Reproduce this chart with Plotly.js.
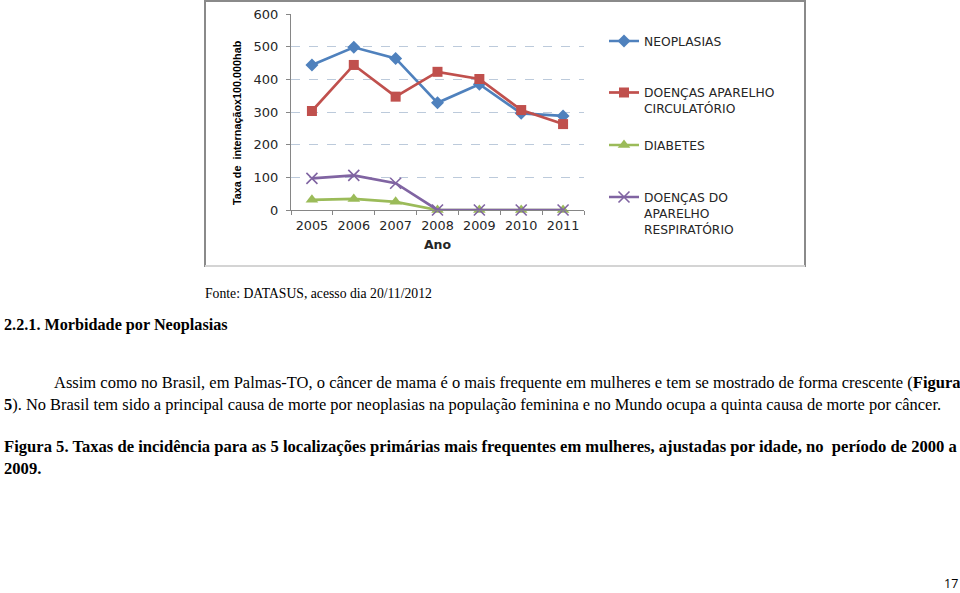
<!DOCTYPE html>
<html>
<head>
<meta charset="utf-8">
<script src="https://cdn.plot.ly/plotly-3.0.1.min.js"></script>
<style>
html,body{margin:0;padding:0;background:#fff;}
#chart{width:960px;height:593px;}
</style>
</head>
<body>
<div id="chart"></div>
<script>
// ---- data ----
var years = ["2005","2006","2007","2008","2009","2010","2011"];
var neoplasias = [444, 498, 464, 328, 385, 296, 288];
var circulatorio = [303, 444, 347, 423, 401, 306, 263];
var diabetes = [31, 34, 25, 0, 0, 0, 0];
var respiratorio = [97, 106, 82, 0, 0, 0, 0];
var seriesNames = ["NEOPLASIAS", "DOENÇAS APARELHO<br>CIRCULATÓRIO", "DIABETES", "DOENÇAS DO<br>APARELHO<br>RESPIRATÓRIO"];
var yTicks = [0, 100, 200, 300, 400, 500, 600];

// ---- page geometry helpers (pixel -> paper) ----
var L = 291, R = 584, T = 14, B = 210;
function px(x){ return (x - L) / (R - L); }
function py(y){ return (B - y) / (B - T); }

var chartFont = "DejaVu Sans, Open Sans, sans-serif";
var serif = "Liberation Serif, Times New Roman, serif";

function tr(y, name, color, marker, legendId){
  return {
    x: years, y: y, name: name, type: "scatter", mode: "lines+markers",
    line: {color: color, width: 2.7},
    marker: marker, cliponaxis: false, legend: legendId
  };
}

var data = [
  tr(neoplasias, seriesNames[0], "#4f81bd", {symbol: "diamond", size: 10, color: "#4f81bd"}, "legend"),
  tr(circulatorio, seriesNames[1], "#c0504d", {symbol: "square", size: 10, color: "#c0504d"}, "legend2"),
  tr(diabetes, seriesNames[2], "#9bbb59", {symbol: "triangle-up", size: 11, color: "#9bbb59"}, "legend3"),
  tr(respiratorio, seriesNames[3], "#8064a2", {symbol: "x-thin-open", size: 11, color: "#8064a2", line: {width: 1.6, color: "#8064a2"}}, "legend4")
];

function leg(yTopPx){
  return {x: px(604), y: py(yTopPx), xanchor: "left", yanchor: "top", valign: "top",
    bgcolor: "rgba(0,0,0,0)", borderwidth: 0, itemwidth: 30,
    font: {family: chartFont, size: 12.3, color: "#262626"}};
}

var ann = [
  {text: "Fonte: DATASUS, acesso dia 20/11/2012", x: px(203), y: py(293), font: {family: serif, size: 13.7, color: "#000"}},
  {text: "<b>2.2.1. Morbidade por Neoplasias</b>", x: px(2), y: py(325), font: {family: serif, size: 16.2, color: "#000"}},
  {text: "Assim como no Brasil, em Palmas-TO, o câncer de mama é o mais frequente em mulheres e tem se mostrado de forma crescente (<b>Figura</b>", x: px(52), y: py(382), font: {family: serif, size: 16.5, color: "#000"}},
  {text: "<b>5</b>). No Brasil tem sido a principal causa de morte por neoplasias na população feminina e no Mundo ocupa a quinta causa de morte por câncer.", x: px(2), y: py(404), font: {family: serif, size: 16.45, color: "#000"}},
  {text: "<b>Figura 5. Taxas de incidência para as 5 localizações primárias mais frequentes em mulheres, ajustadas por idade, no  período de 2000 a<br>2009.</b>", x: px(2), y: py(457.5), align: "left", font: {family: serif, size: 16.6, color: "#000"}},
  {text: "17", x: px(951), y: py(593), xanchor: "center", yanchor: "bottom", borderpad: 0, font: {family: "Open Sans, sans-serif", size: 12.5, color: "#000"}},
  {text: "<b>Taxa de  internaçãox100.000hab</b>", x: px(237), y: py(123), xanchor: "center", textangle: -90, font: {family: "Liberation Sans, Arial, sans-serif", size: 10.8, color: "#000"}}
].map(function(a){
  return Object.assign({xref: "paper", yref: "paper", xanchor: "left", yanchor: "middle", showarrow: false}, a);
});

var layout = {
  width: 960, height: 593,
  margin: {l: L, r: 960 - R, t: T, b: 593 - B, pad: 0},
  paper_bgcolor: "#ffffff", plot_bgcolor: "#ffffff",
  font: {family: chartFont, color: "#262626"},
  xaxis: {
    type: "category", range: [-0.5, 6.5], fixedrange: true,
    showline: true, linecolor: "#868686", linewidth: 1,
    ticks: "outside", tickson: "boundaries", ticklen: 4, tickcolor: "#868686",
    ticklabelstandoff: 4, tickangle: 0,
    showgrid: false, zeroline: false,
    tickfont: {family: chartFont, size: 12.8, color: "#262626"},
    title: {text: "<b>Ano</b>", font: {family: chartFont, size: 12.5, color: "#262626"}, standoff: 7},
    automargin: false
  },
  yaxis: {
    range: [0, 600], tickvals: yTicks, ticktext: yTicks.map(String),
    showline: true, linecolor: "#868686", linewidth: 1,
    ticks: "outside", ticklen: 4, tickcolor: "#868686", ticklabelstandoff: 5,
    showgrid: true, gridcolor: "#bccadb", griddash: "dash", gridwidth: 1,
    zeroline: false,
    tickfont: {family: chartFont, size: 13, color: "#262626"},
    automargin: false
  },
  legend: leg(26.5),
  legend2: leg(78),
  legend3: leg(130.5),
  legend4: leg(182.5),
  showlegend: true,
  shapes: [
    {type: "rect", xref: "paper", yref: "paper", x0: px(205), x1: px(805), y0: py(266), y1: py(1), line: {color: "#8a8a8a", width: 2}, layer: "below"},
    {type: "line", xref: "paper", yref: "paper", x0: px(205), x1: px(805), y0: py(266), y1: py(266), line: {color: "#d4d4d4", width: 2}, layer: "below"}
  ],
  annotations: ann
};

Plotly.newPlot("chart", data, layout, {staticPlot: true, displayModeBar: false});
</script>
</body>
</html>
